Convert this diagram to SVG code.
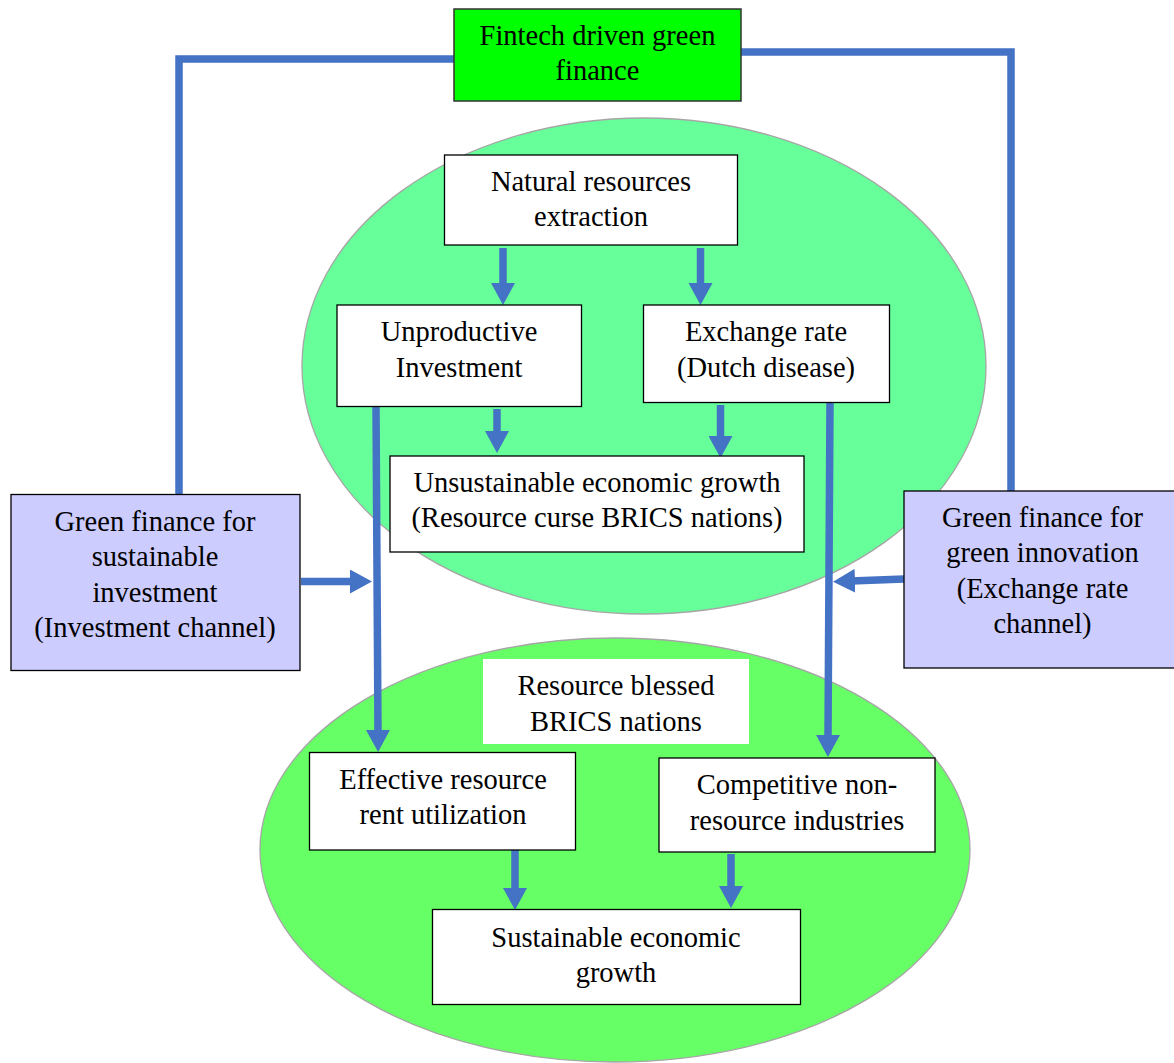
<svg xmlns="http://www.w3.org/2000/svg" width="1174" height="1063" viewBox="0 0 1174 1063">
<style>
  .t { font-family: "Liberation Serif", "Times New Roman", serif; font-size: 28.5px; fill: #000; text-anchor: middle; }
  .box { fill: #ffffff; stroke: #000; stroke-width: 1.3; }
  .fin { fill: #ccccff; stroke: #000; stroke-width: 1.3; }
  .conn { fill: none; stroke: #4472c4; stroke-width: 7.5; }
  .arr { fill: none; stroke: #4472c4; stroke-width: 7.5; marker-end: url(#ah); }
</style>
<defs>
  <marker id="ah" markerUnits="userSpaceOnUse" markerWidth="22" markerHeight="24" viewBox="0 0 22 24" refX="4" refY="12" orient="auto">
    <path d="M0,0 L22,12 L0,24 z" fill="#4472c4"/>
  </marker>
</defs>
<rect width="1174" height="1063" fill="#ffffff"/>

<g id="ellipse-upper">
  <ellipse cx="644" cy="366" rx="342" ry="248" fill="#66ff99" stroke="#a6a6a6" stroke-width="1.3"/>
</g>
<g id="ellipse-lower">
  <ellipse cx="615" cy="850" rx="355" ry="212" fill="#66ff66" stroke="#a6a6a6" stroke-width="1.3"/>
</g>

<g id="connectors">
  <polyline class="conn" points="454,59 179,59 179,494"/>
  <polyline class="conn" points="741,52 1011,52 1011,491"/>
  <line class="arr" x1="503" y1="248" x2="503" y2="287"/>
  <line class="arr" x1="700.5" y1="248" x2="700.5" y2="287"/>
  <line class="arr" x1="497" y1="409" x2="497" y2="435"/>
  <line class="arr" x1="720.5" y1="405" x2="720.5" y2="440"/>
  <line class="arr" x1="376" y1="406" x2="378" y2="734"/>
  <line class="arr" x1="830" y1="402" x2="828" y2="739"/>
  <line class="arr" x1="301" y1="581.5" x2="354" y2="581.5"/>
  <line class="arr" x1="904" y1="579" x2="851" y2="581"/>
  <line class="arr" x1="515" y1="850" x2="515" y2="892"/>
  <line class="arr" x1="731" y1="854" x2="731" y2="890"/>
</g>

<g id="node-fintech">
  <rect x="454" y="9" width="287" height="92" fill="#00ff00" stroke="#333" stroke-width="1.5"/>
  <text class="t" x="597.5" y="45">Fintech driven green</text>
  <text class="t" x="597.5" y="80">finance</text>
</g>

<g id="node-natural">
  <rect class="box" x="444.5" y="155" width="293" height="90"/>
  <text class="t" x="591" y="191">Natural resources</text>
  <text class="t" x="591" y="226">extraction</text>
</g>

<g id="node-unproductive">
  <rect class="box" x="337" y="305" width="244.5" height="101.5"/>
  <text class="t" x="459" y="341">Unproductive</text>
  <text class="t" x="459" y="377">Investment</text>
</g>

<g id="node-exchange">
  <rect class="box" x="643.5" y="305" width="246" height="97.5"/>
  <text class="t" x="766" y="341">Exchange rate</text>
  <text class="t" x="766" y="377">(Dutch disease)</text>
</g>

<g id="node-unsustainable">
  <rect class="box" x="390" y="456" width="414" height="96"/>
  <text class="t" x="597" y="492">Unsustainable economic growth</text>
  <text class="t" x="597" y="527">(Resource curse BRICS nations)</text>
</g>

<g id="node-green-invest">
  <rect class="fin" x="11" y="494.5" width="289" height="176"/>
  <text class="t" x="155" y="531">Green finance for</text>
  <text class="t" x="155" y="566">sustainable</text>
  <text class="t" x="155" y="601.5">investment</text>
  <text class="t" x="155" y="637">(Investment channel)</text>
</g>

<g id="node-green-innov">
  <rect class="fin" x="904" y="491" width="272" height="177"/>
  <text class="t" x="1042.5" y="527">Green finance for</text>
  <text class="t" x="1042.5" y="562">green innovation</text>
  <text class="t" x="1042.5" y="598">(Exchange rate</text>
  <text class="t" x="1042.5" y="633">channel)</text>
</g>

<g id="node-blessed">
  <rect x="483" y="659" width="266" height="85" fill="#ffffff"/>
  <text class="t" x="616" y="695">Resource blessed</text>
  <text class="t" x="616" y="730.5">BRICS nations</text>
</g>

<g id="node-effective">
  <rect class="box" x="309.5" y="752.5" width="266" height="97.5"/>
  <text class="t" x="443" y="789">Effective resource</text>
  <text class="t" x="443" y="824">rent utilization</text>
</g>

<g id="node-competitive">
  <rect class="box" x="659" y="758" width="276" height="94"/>
  <text class="t" x="797" y="794">Competitive non-</text>
  <text class="t" x="797" y="830">resource industries</text>
</g>

<g id="node-sustainable">
  <rect class="box" x="432.5" y="909.5" width="368" height="95"/>
  <text class="t" x="616" y="946.5">Sustainable economic</text>
  <text class="t" x="616" y="981.5">growth</text>
</g>
</svg>
